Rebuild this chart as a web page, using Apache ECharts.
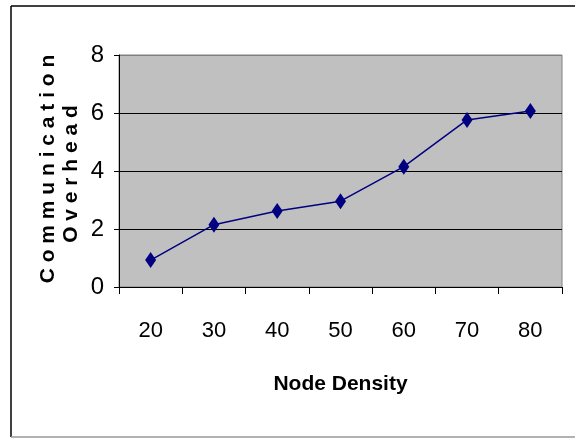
<!DOCTYPE html>
<html>
<head>
<meta charset="utf-8">
<script src="https://cdn.jsdelivr.net/npm/echarts@6/dist/echarts.min.js"></script>
<style>
html, body { margin: 0; padding: 0; background: #fff; }
#chart { width: 575px; height: 438px; }
</style>
</head>
<body>
<div id="chart"></div>
<script>
var density = ['20', '30', '40', '50', '60', '70', '80'];
var overhead = [0.93, 2.15, 2.62, 2.96, 4.15, 5.76, 6.07];
var yTicks = [0, 2, 4, 6, 8];

var myChart = echarts.init(document.getElementById('chart'));
var option = {
    animation: false,
    backgroundColor: '#fff',
    grid: {
        left: 119, top: 55, width: 443, height: 232,
        show: true,
        backgroundColor: '#c0c0c0',
        borderColor: '#808080',
        borderWidth: 1
    },
    graphic: [
        // outer frame
        { type: 'line', shape: { x1: 11, y1: 6, x2: 575, y2: 6 }, style: { stroke: '#000', lineWidth: 1.5 } },
        { type: 'line', shape: { x1: 11, y1: 6, x2: 11, y2: 437 }, style: { stroke: '#000', lineWidth: 1.5 } },
        { type: 'line', shape: { x1: 11, y1: 437, x2: 575, y2: 437 }, style: { stroke: '#999', lineWidth: 1.5 } },
        // y axis title, two lines
        {
            type: 'text', x: 48, y: 169, rotation: Math.PI / 2,
            style: {
                text: 'C o m m u n i c a t i o n',
                font: 'bold 21px "Liberation Sans", Arial, sans-serif',
                fill: '#000', align: 'center', verticalAlign: 'middle'
            }
        },
        {
            type: 'text', x: 71, y: 174, rotation: Math.PI / 2,
            style: {
                text: 'O v e r h e a d',
                font: 'bold 21px "Liberation Sans", Arial, sans-serif',
                fill: '#000', align: 'center', verticalAlign: 'middle'
            }
        }
    ],
    xAxis: {
        type: 'category',
        data: density,
        boundaryGap: true,
        name: 'Node Density',
        nameLocation: 'middle',
        nameGap: 87,
        nameTextStyle: {
            fontFamily: '"Liberation Sans Narrow", "Liberation Sans", sans-serif',
            fontWeight: 'bold',
            fontSize: 21,
            color: '#000'
        },
        axisLine: { lineStyle: { color: '#000', width: 1 } },
        axisTick: { show: true, length: 7, inside: false, lineStyle: { color: '#000' } },
        axisLabel: {
            margin: 33,
            fontFamily: '"Liberation Sans Narrow", "Liberation Sans", sans-serif',
            fontSize: 22,
            color: '#000'
        },
        splitLine: { show: false }
    },
    yAxis: {
        type: 'value',
        min: yTicks[0],
        max: yTicks[yTicks.length - 1],
        interval: 2,
        axisLine: { show: true, lineStyle: { color: '#000', width: 1 } },
        axisTick: { show: true, length: 5, lineStyle: { color: '#000' } },
        axisLabel: {
            margin: 15,
            fontFamily: '"Liberation Sans Narrow", "Liberation Sans", sans-serif',
            fontSize: 24,
            color: '#000'
        },
        splitLine: {
            show: true,
            lineStyle: { color: ['#000', '#000', '#000', '#000', '#808080'], width: 1 }
        }
    },
    series: [
        {
            type: 'line',
            data: overhead,
            symbol: 'diamond',
            symbolSize: [11, 16],
            itemStyle: { color: '#000080' },
            lineStyle: { color: '#000080', width: 1.5 }
        }
    ]
};
myChart.setOption(option);
</script>
</body>
</html>
